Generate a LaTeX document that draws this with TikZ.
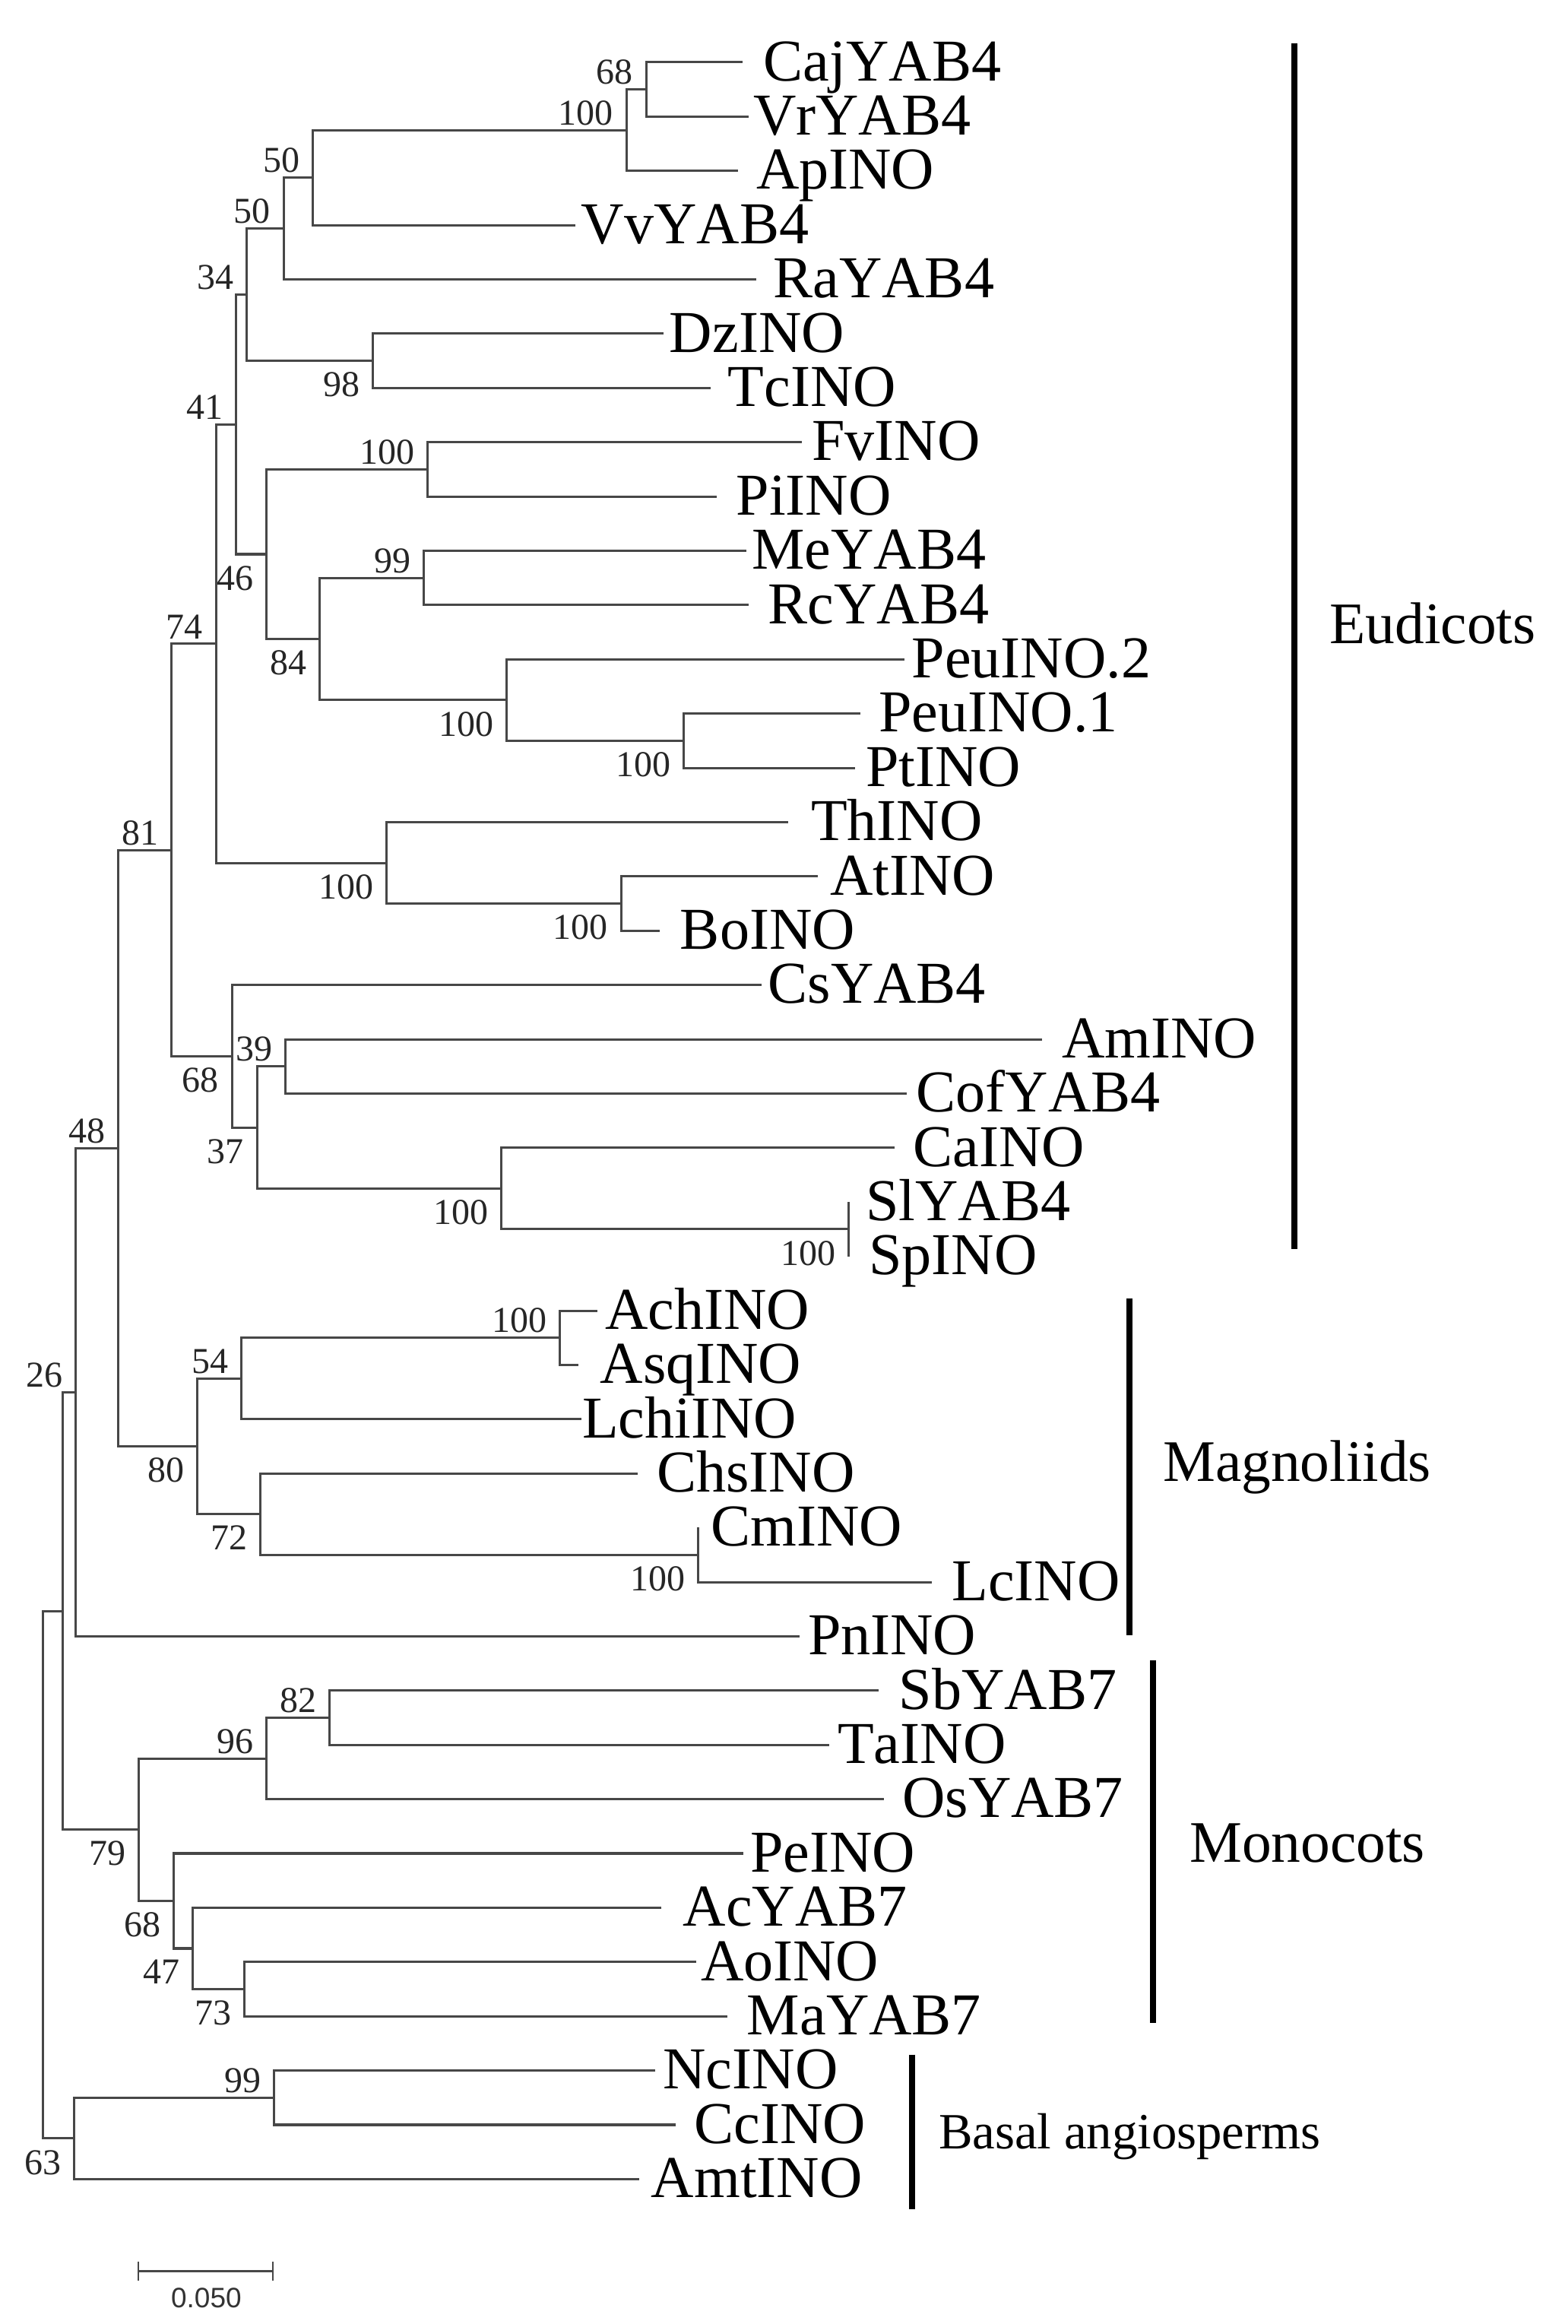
\documentclass[tikz,border=0pt]{standalone}
\usepackage{fontspec}
\setmainfont{Liberation Serif}[Kerning=Off]
\newfontfamily\sansf{Liberation Sans}
\usetikzlibrary{calc}
\newcommand\tleaf[5]{\coordinate (#1) at (#2,#3);\node[taxon] (t#1) at (#4,#3+12.5) {#5};}
\newcommand\tnode[5]{\coordinate (#1) at (#2,#3);\draw[branch] (#4) -| (#1) |- (#5);}
\newcommand\bsA[2]{\node[bs,anchor=south east] (b#1) at ($(#1)+(-8.5,-3)$) {#2};}
\newcommand\bsB[2]{\node[bs,anchor=north east] (b#1) at ($(#1)+(-8.5,7.5)$) {#2};}
\begin{document}
\begin{tikzpicture}[x=0.02cm,y=-0.02cm,
  branch/.style={draw=black!72,line width=0.9pt},
  taxon/.style={anchor=base west,inner sep=0pt,font=\fontsize{22.8}{24}\selectfont},
  bs/.style={inner sep=0pt,text=black!85,font=\fontsize{14}{15}\selectfont},
  cladebar/.style={draw=black,line width=2.3pt},
  cladetext/.style={anchor=base west,inner sep=0pt,font=\fontsize{22.6}{24}\selectfont}]
\fill[white] (0,0) rectangle (1058,1568);
\useasboundingbox (0,0) rectangle (1058,1568);
% leaves
\tleaf{Caj}{501.1}{42.0}{515}{CajYAB4}
\tleaf{Vr}{505.4}{78.6}{508}{VrYAB4}
\tleaf{Ap}{498.2}{115.2}{510}{ApINO}
\tleaf{Vv}{388.5}{151.9}{392}{VvYAB4}
\tleaf{Ra}{510.1}{188.5}{521.5}{RaYAB4}
\tleaf{Dz}{447.9}{225.1}{451.5}{DzINO}
\tleaf{Tc}{479.5}{261.7}{491}{TcINO}
\tleaf{Fv}{541.0}{298.3}{547.6}{FvINO}
\tleaf{Pi}{483.9}{335.0}{496.5}{PiINO}
\tleaf{Me}{503.6}{371.6}{507}{MeYAB4}
\tleaf{Rc}{505.4}{408.2}{518}{RcYAB4}
\tleaf{PeuB}{610.2}{444.8}{615}{PeuINO.2}
\tleaf{PeuA}{580.6}{481.4}{592.8}{PeuINO.1}
\tleaf{Pt}{577.1}{518.1}{584}{PtINO}
\tleaf{Th}{531.8}{554.7}{547}{ThINO}
\tleaf{At}{551.8}{591.3}{559.8}{AtINO}
\tleaf{Bo}{445.4}{627.9}{458.7}{BoINO}
\tleaf{Cs}{514.0}{664.5}{518}{CsYAB4}
\tleaf{Am}{703.3}{701.2}{716.2}{AmINO}
\tleaf{Cof}{611.9}{737.8}{618}{CofYAB4}
\tleaf{Ca}{603.9}{774.4}{616}{CaINO}
\tleaf{Sl}{572.6}{811.0}{584}{SlYAB4}
\tleaf{Sp}{572.6}{847.6}{586}{SpINO}
\tleaf{Ach}{403.0}{884.3}{408}{AchINO}
\tleaf{Asq}{390.3}{920.9}{404.7}{AsqINO}
\tleaf{Lchi}{392.6}{957.5}{392.6}{LchiINO}
\tleaf{Chs}{430.1}{994.1}{443}{ChsINO}
\tleaf{Cm}{471.3}{1030.7}{479.3}{CmINO}
\tleaf{Lc}{628.7}{1067.4}{642}{LcINO}
\tleaf{Pn}{539.5}{1104.0}{544.9}{PnINO}
\tleaf{Sb}{593.0}{1140.6}{606.4}{SbYAB7}
\tleaf{Ta}{559.6}{1177.2}{565}{TaINO}
\tleaf{Os}{596.6}{1213.8}{608.6}{OsYAB7}
\tleaf{Pe}{501.6}{1250.5}{506}{PeINO}
\tleaf{Ac}{446.4}{1287.1}{460.6}{AcYAB7}
\tleaf{Ao}{469.8}{1323.7}{472.6}{AoINO}
\tleaf{Ma}{491.1}{1360.3}{503.8}{MaYAB7}
\tleaf{Nc}{442.2}{1396.9}{447.2}{NcINO}
\tleaf{Cc}{455.8}{1433.6}{468.2}{CcINO}
\tleaf{Amt}{431.5}{1470.2}{439.2}{AmtINO}
% internal nodes
\tnode{nA}{436.0}{60.3}{Caj}{Vr}\bsA{nA}{68}
\tnode{nB}{422.7}{87.75}{nA}{Ap}\bsA{nB}{100}
\tnode{nC}{211.2}{119.8}{nB}{Vv}\bsA{nC}{50}
\tnode{nD}{191.4}{154.2}{nC}{Ra}\bsA{nD}{50}
\tnode{nE}{251.8}{243.4}{Dz}{Tc}\bsB{nE}{98}
\tnode{nF}{166.6}{198.8}{nD}{nE}\bsA{nF}{34}
\tnode{nG}{288.5}{316.7}{Fv}{Pi}\bsA{nG}{100}
\tnode{nH}{286.0}{389.9}{Me}{Rc}\bsA{nH}{99}
\tnode{nI}{461.6}{499.8}{PeuA}{Pt}\bsB{nI}{100}
\tnode{nJ}{341.8}{472.3}{PeuB}{nI}\bsB{nJ}{100}
\tnode{nK}{215.8}{431.1}{nH}{nJ}\bsB{nK}{84}
\tnode{nL}{179.9}{373.9}{nG}{nK}\bsB{nL}{46}
\tnode{nM}{159.4}{286.4}{nF}{nL}\bsA{nM}{41}
\tnode{nN}{419.1}{609.6}{At}{Bo}\bsB{nN}{100}
\tnode{nO}{260.8}{582.2}{Th}{nN}\bsB{nO}{100}
\tnode{nP}{145.7}{434.3}{nM}{nO}\bsA{nP}{74}
\tnode{nQ}{572.6}{829.3}{Sl}{Sp}\bsB{nQ}{100}
\tnode{nR}{338.2}{801.9}{Ca}{nQ}\bsB{nR}{100}
\tnode{nS}{192.5}{719.5}{Am}{Cof}\bsA{nS}{39}
\tnode{nT}{173.4}{760.7}{nS}{nR}\bsB{nT}{37}
\tnode{nU}{156.5}{712.6}{Cs}{nT}\bsB{nU}{68}
\tnode{nV}{115.8}{573.5}{nP}{nU}\bsA{nV}{81}
\tnode{nW}{377.7}{902.6}{Ach}{Asq}\bsA{nW}{100}
\tnode{nX}{163.0}{930.1}{nW}{Lchi}\bsA{nX}{54}
\tnode{nY}{471.3}{1049.1}{Cm}{Lc}\bsB{nY}{100}
\tnode{nZ}{175.6}{1021.6}{Chs}{nY}\bsB{nZ}{72}
\tnode{mA}{133.1}{975.9}{nX}{nZ}\bsB{mA}{80}
\tnode{mB}{79.9}{774.7}{nV}{mA}\bsA{mB}{48}
\tnode{mC}{51.1}{939.4}{mB}{Pn}\bsA{mC}{26}
\tnode{mD}{222.3}{1158.9}{Sb}{Ta}\bsA{mD}{82}
\tnode{mE}{179.9}{1186.4}{mD}{Os}\bsA{mE}{96}
\tnode{mF}{165.0}{1342.0}{Ao}{Ma}\bsB{mF}{73}
\tnode{mG}{130.1}{1314.6}{Ac}{mF}\bsB{mG}{47}
\tnode{mH}{117.3}{1282.6}{Pe}{mG}\bsB{mH}{68}
\tnode{mI}{93.5}{1234.5}{mE}{mH}\bsB{mI}{79}
\tnode{mJ}{42.4}{1087.0}{mC}{mI}
\tnode{mK}{185.0}{1415.3}{Nc}{Cc}\bsA{mK}{99}
\tnode{mL}{50.2}{1442.8}{mK}{Amt}\bsB{mL}{63}
\tnode{root}{28.9}{1264.9}{mJ}{mL}
% clade bars
\coordinate (eT) at (873.3,29.4); \coordinate (eB) at (873.3,842.8);
\draw[cladebar] (eT) -- (eB);
\node[cladetext] (eud) at (897,434) {Eudicots};
\coordinate (gT) at (762.4,876); \coordinate (gB) at (762.4,1103.4);
\draw[cladebar] (gT) -- (gB);
\node[cladetext] (mag) at (784.6,999.2) {Magnoliids};
\coordinate (oT) at (778,1120.4); \coordinate (oB) at (778,1364.9);
\draw[cladebar] (oT) -- (oB);
\node[cladetext] (mono) at (802.5,1256.4) {Monocots};
\coordinate (aT) at (615.3,1386.2); \coordinate (aB) at (615.3,1490.3);
\draw[cladebar] (aT) -- (aB);
\node[cladetext,font=\fontsize{19.5}{21}\selectfont] (basal) at (633.1,1449.8) {Basal angiosperms};
% scale bar
\coordinate (sL) at (93.5,1532.3); \coordinate (sR) at (184.1,1532.3);
\draw[branch,line width=0.7pt] (sL) -- (sR);
\draw[branch,line width=0.7pt] ($(sL)+(0,-6.5)$) -- ($(sL)+(0,6.5)$);
\draw[branch,line width=0.7pt] ($(sR)+(0,-6.5)$) -- ($(sR)+(0,6.5)$);
\node[anchor=base,inner sep=0pt,text=black!80,font=\sansf\fontsize{10.8}{12}\selectfont] (sbt) at (139.2,1557) {0.050};
\end{tikzpicture}
\end{document}
